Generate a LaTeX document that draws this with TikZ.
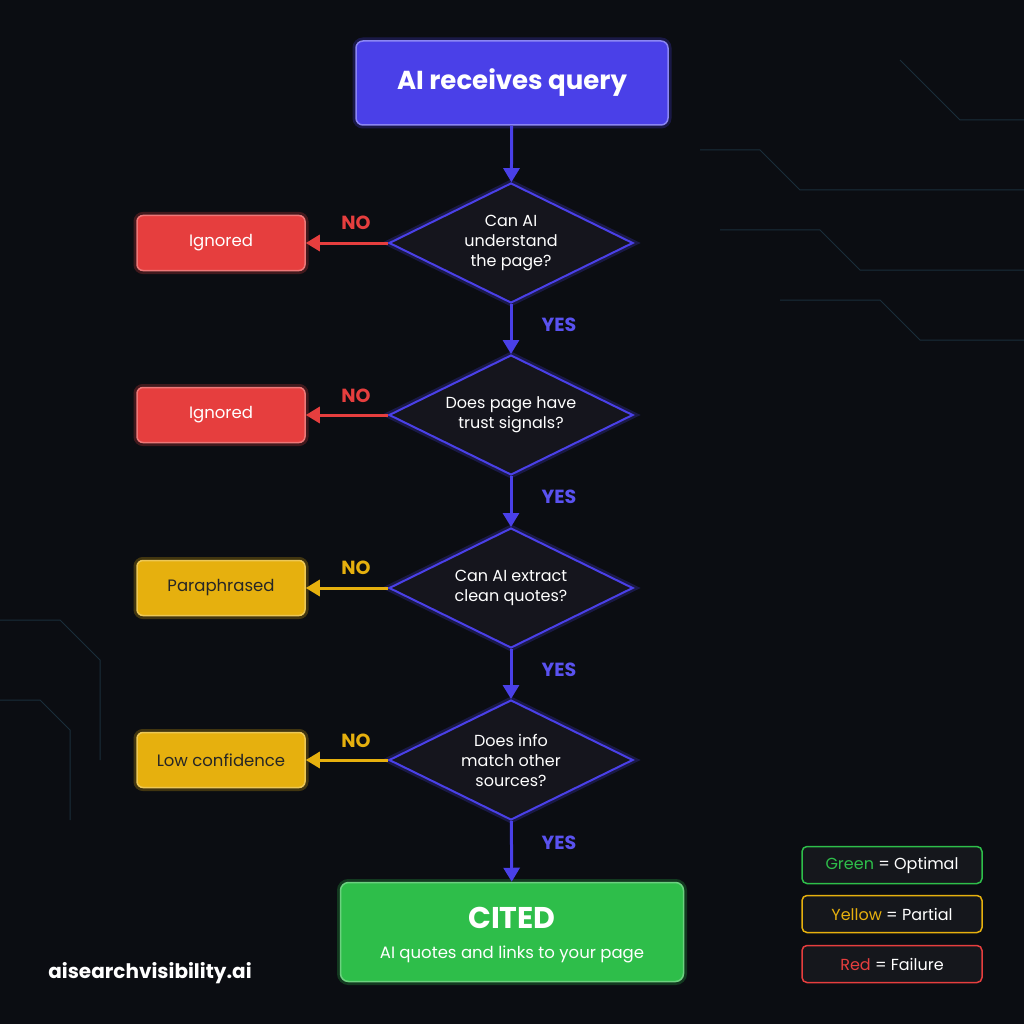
\documentclass[tikz,border=0pt]{standalone}
\usepackage{fontspec}
\setmainfont{Poppins}
\usetikzlibrary{shapes.geometric,arrows.meta}
\definecolor{bg}{HTML}{0B0D12}
\definecolor{bl}{HTML}{4A40E8}
\definecolor{blt}{HTML}{5A52F0}
\definecolor{dia}{HTML}{15151D}
\definecolor{rd}{HTML}{E63E3E}
\definecolor{yl}{HTML}{E6B00E}
\definecolor{gr}{HTML}{2EBE4A}
\definecolor{lgbg}{HTML}{15171C}
\definecolor{circ}{HTML}{1A2E3A}
\begin{document}
\begin{tikzpicture}[x=1pt,y=-1pt,
  glow/.style={preaction={draw=#1,line width=7pt,opacity=0.25}},
  dec/.style={diamond,aspect=2.03,minimum width=244pt,minimum height=120pt,inner sep=0pt,
     fill=dia,draw=bl,line width=2pt,glow=bl,text=white,font=\fontsize{16}{20}\selectfont,align=center},
  res/.style={rounded corners=6pt,minimum width=168pt,minimum height=55pt,line width=1.5pt,glow=#1,
     fill=#1,draw=#1!70!white,font=\fontsize{16.5}{20}\selectfont},
  arr/.style={line width=3pt,-{Triangle[length=14pt,width=16pt]}},
  yes/.style={text=blt,font=\fontsize{19}{22}\selectfont\bfseries},
  no/.style={font=\fontsize{19}{22}\selectfont\bfseries},
  leg/.style={rounded corners=5pt,minimum width=180pt,minimum height=37pt,fill=lgbg,line width=1.5pt,
     text=white,font=\fontsize{16}{20}\selectfont}]
\fill[bg] (0,0) rectangle (1024,1024);
\useasboundingbox (0,0) rectangle (1024,1024);
% faint circuit traces
\begin{scope}[circ,line width=1pt]
\draw (700,150) -- (760,150) -- (800,190) -- (1024,190);
\draw (720,230) -- (820,230) -- (860,270) -- (1024,270);
\draw (780,300) -- (880,300) -- (920,340) -- (1024,340);
\draw (0,620) -- (60,620) -- (100,660) -- (100,760);
\draw (0,700) -- (40,700) -- (70,730) -- (70,820);
\draw (900,60) -- (960,120) -- (1024,120);
\end{scope}
% top box
\node[rounded corners=7pt,minimum width=312pt,minimum height=84pt,fill=bl,draw=blt!70!white,line width=1.5pt,glow=bl,
  text=white,font=\fontsize{26}{30}\selectfont\bfseries] (q) at (512,83) {AI receives query};
\node[dec] (d1) at (511,243) {Can AI\\understand\\the page?};
\node[dec] (d2) at (511,415) {Does page have\\trust signals?};
\node[dec] (d3) at (511,588) {Can AI extract\\clean quotes?};
\node[dec] (d4) at (511,760) {Does info\\match other\\sources?};
\node[res=rd,text=white] (r1) at (221,243) {Ignored};
\node[res=rd,text=white] (r2) at (221,415) {Ignored};
\node[res=yl,text=black!85] (r3) at (221,588) {Paraphrased};
\node[res=yl,text=black!85] (r4) at (221,760) {Low confidence};
\node[rounded corners=8pt,minimum width=343pt,minimum height=99pt,fill=gr,draw=gr!70!white,line width=1.5pt,glow=gr] (c) at (512,932) {};
\node[text=white,font=\fontsize{30}{34}\selectfont\bfseries] (ct) at (512,918) {CITED};
\node[text=white,font=\fontsize{16.5}{20}\selectfont] (cs) at (512,954) {AI quotes and links to your page};
% arrows
\draw[arr,bl] (q) -- (d1);
\draw[arr,bl] (d1) -- (d2);
\draw[arr,bl] (d2) -- (d3);
\draw[arr,bl] (d3) -- (d4);
\draw[arr,bl] (d4) -- (c);
\draw[arr,rd] (d1) -- (r1);
\draw[arr,rd] (d2) -- (r2);
\draw[arr,yl] (d3) -- (r3);
\draw[arr,yl] (d4) -- (r4);
\node[yes] (y1) at (559,325) {YES};
\node[yes] (y2) at (559,497) {YES};
\node[yes] (y3) at (559,670) {YES};
\node[yes] (y4) at (559,843) {YES};
\node[no,text=rd] (n1) at (356,223) {NO};
\node[no,text=rd] (n2) at (356,396) {NO};
\node[no,text=yl] (n3) at (356,568) {NO};
\node[no,text=yl] (n4) at (356,741) {NO};
% watermark
\node[text=white,font=\fontsize{20}{24}\selectfont\bfseries] (w) at (150,973) {aisearchvisibility.ai};
% legend
\node[leg,draw=gr] (l1) at (892,865) {\textcolor{gr}{Green} = Optimal};
\node[leg,draw=yl] (l2) at (892,914) {\textcolor{yl}{Yellow} = Partial};
\node[leg,draw=rd] (l3) at (892,964) {\textcolor{rd}{Red} = Failure};
\end{tikzpicture}
\end{document}
